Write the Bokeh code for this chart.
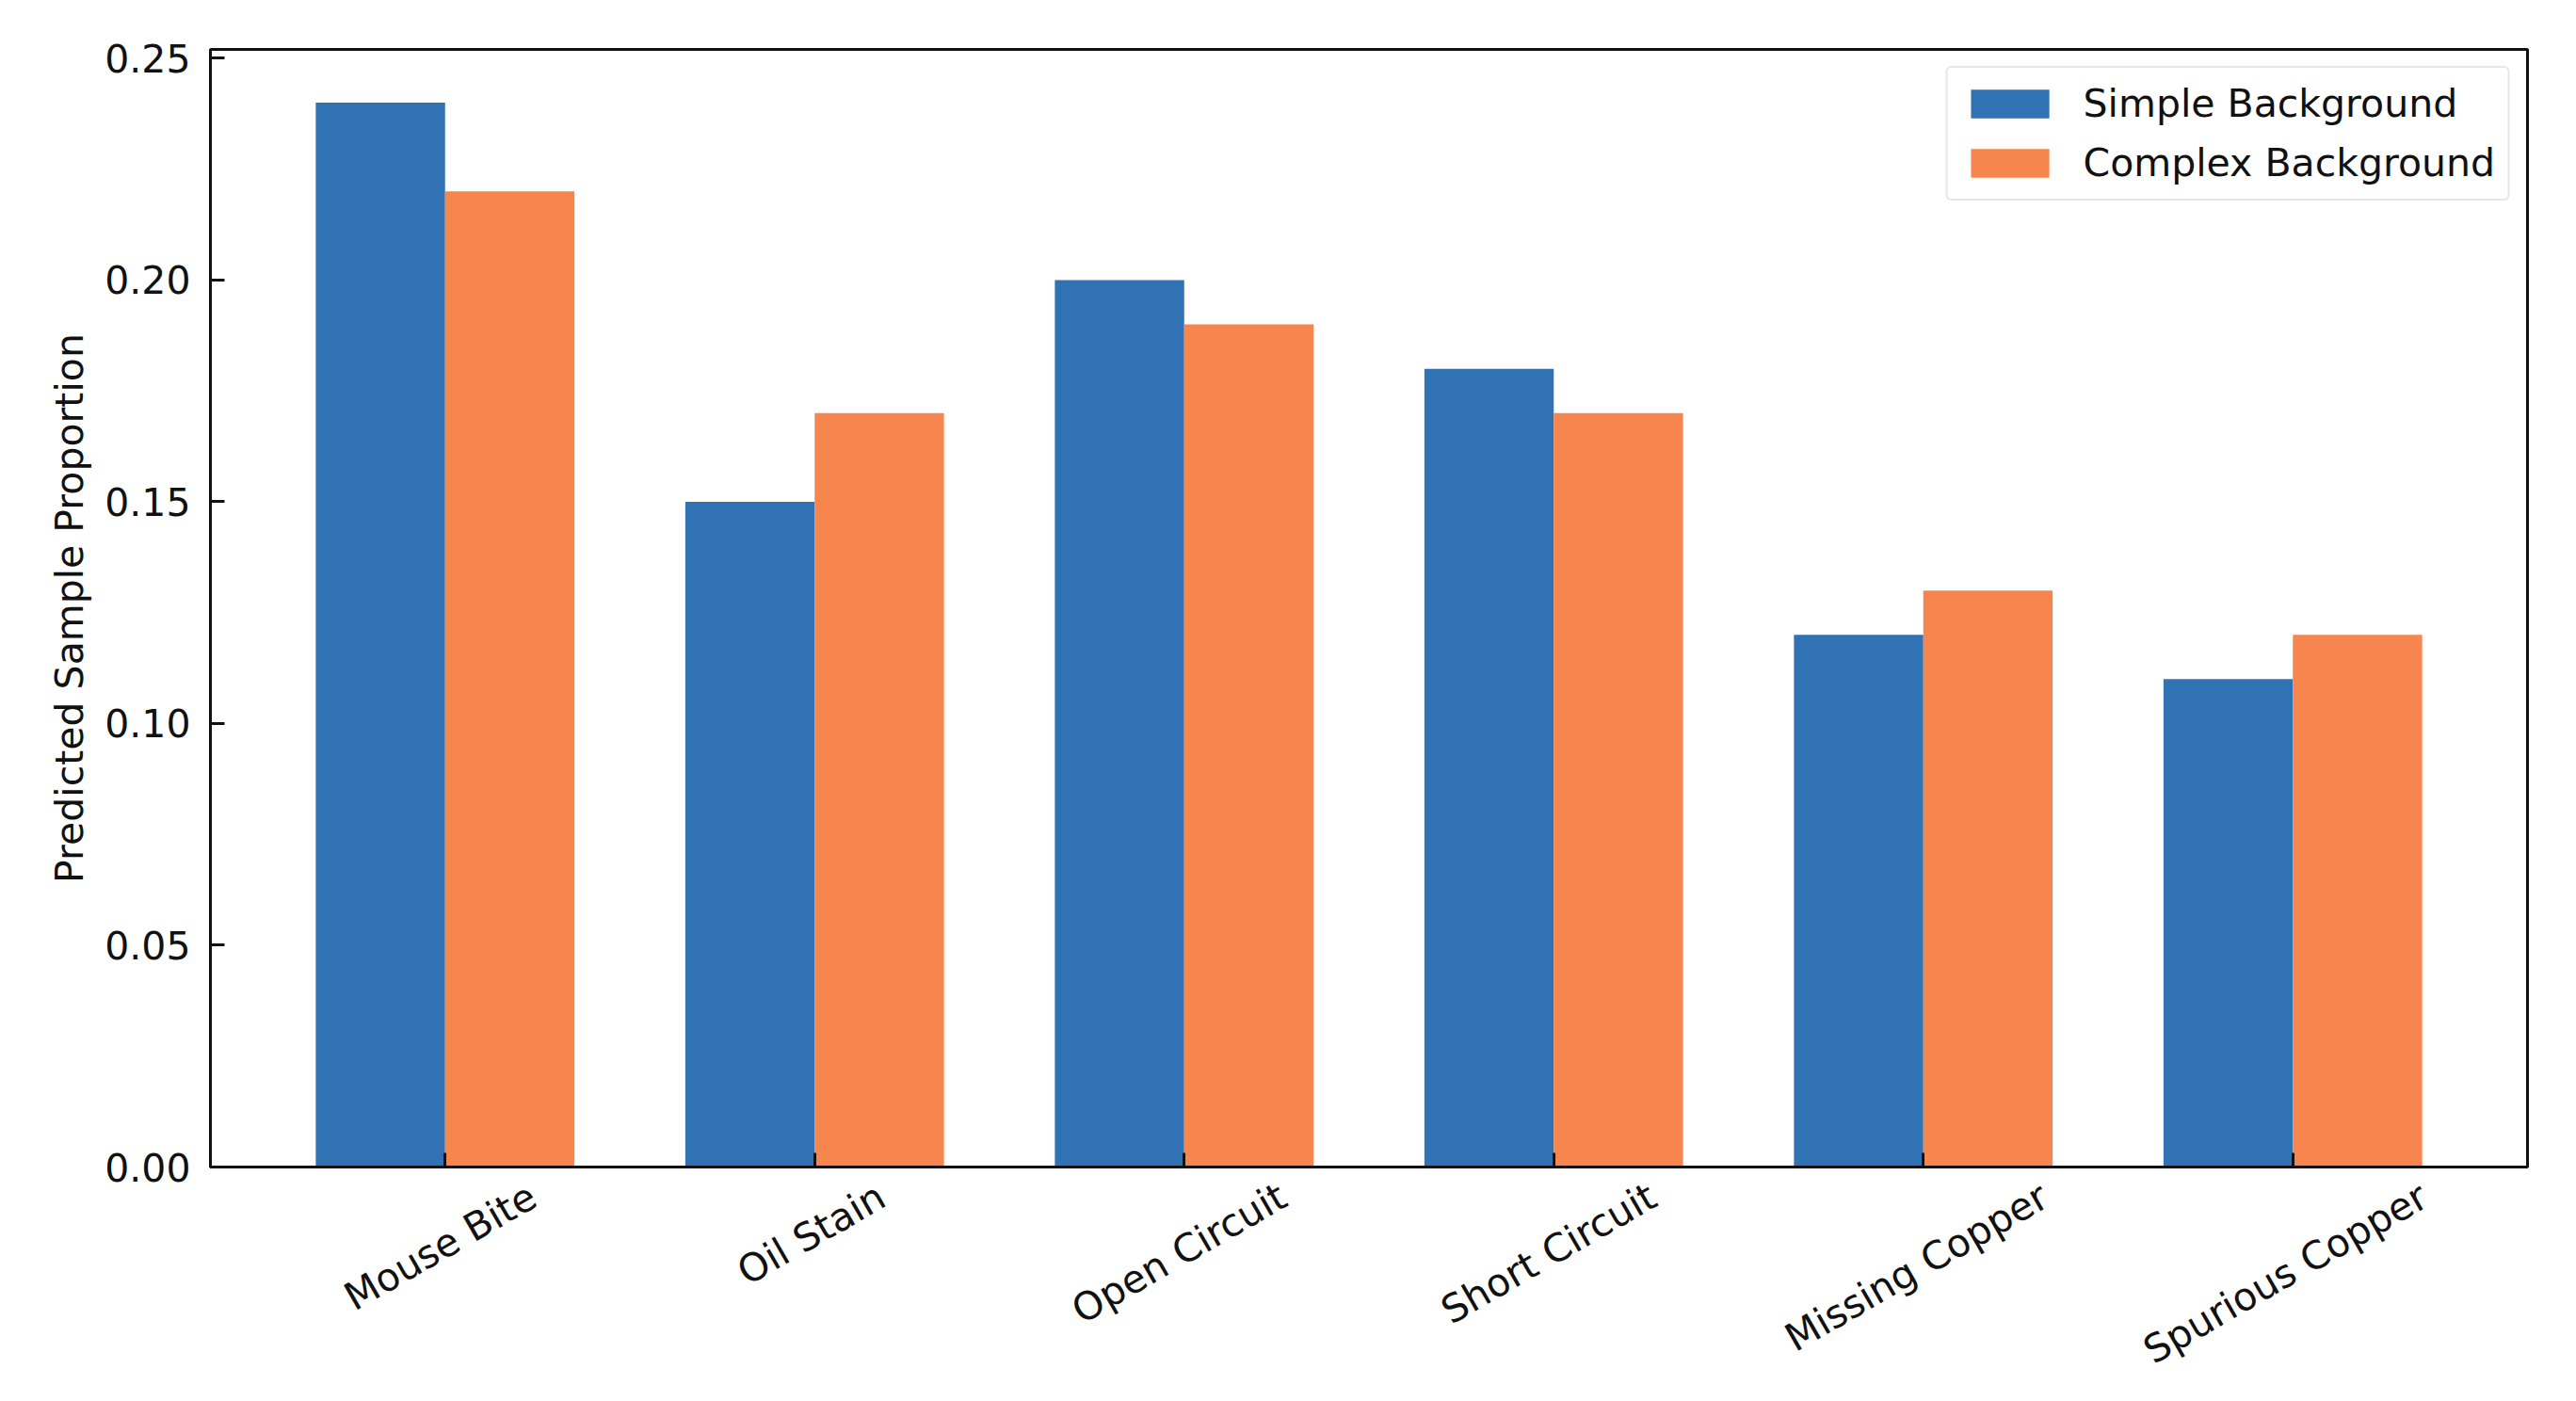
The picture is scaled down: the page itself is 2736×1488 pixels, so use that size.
import math
from bokeh.plotting import figure
from bokeh.models import Range1d, FixedTicker, ColumnDataSource, Legend, LegendItem, LinearAxis
from bokeh.transform import dodge
from bokeh.embed import file_html
from bokeh.resources import INLINE

categories = ["Mouse Bite", "Oil Stain", "Open Circuit", "Short Circuit", "Missing Copper", "Spurious Copper"]
simple_bg = [0.24, 0.15, 0.20, 0.18, 0.12, 0.11]
complex_bg = [0.22, 0.17, 0.19, 0.17, 0.13, 0.12]
series_names = ["Simple Background", "Complex Background"]
y_ticks = [0.00, 0.05, 0.10, 0.15, 0.20, 0.25]

BLUE = "#3072b3"
ORANGE = "#f6864e"
FONT = "DejaVu Sans"
FS_PX = 41
FS = f"{FS_PX}px"
TXT = "#111111"
ANGLE = math.pi / 6

X0, X1 = -0.635, 5.635
FRAME_W, FRAME_H = 2461, 1187

idx = list(range(len(categories)))
src = ColumnDataSource(dict(idx=idx, cat=categories, simple=simple_bg, complex=complex_bg))

bar_w = 0.35
p = figure(frame_width=FRAME_W, frame_height=FRAME_H, output_backend="svg", toolbar_location=None,
           x_range=Range1d(X0, X1), y_range=Range1d(0, 0.252),
           min_border_left=223, min_border_top=52, min_border_right=36, min_border_bottom=20)

r1 = p.vbar(x=dodge("idx", -bar_w / 2, range=p.x_range), top="simple", width=bar_w, source=src,
            fill_color=BLUE, line_color=None)
r2 = p.vbar(x=dodge("idx", bar_w / 2, range=p.x_range), top="complex", width=bar_w, source=src,
            fill_color=ORANGE, line_color=None)

p.xgrid.visible = False
p.ygrid.visible = False
p.outline_line_color = "#111111"
p.outline_line_width = 3
p.outline_line_alpha = 1.0

def style_axis(ax):
    ax.axis_line_color = "#111111"
    ax.axis_line_width = 3
    ax.major_tick_line_color = "#111111"
    ax.major_tick_line_width = 3
    ax.major_tick_in = 15
    ax.major_tick_out = 0
    ax.minor_tick_line_color = None
    ax.major_label_text_font = FONT
    ax.major_label_text_font_size = FS
    ax.major_label_text_color = TXT
    ax.axis_label_text_font = FONT
    ax.axis_label_text_font_size = FS
    ax.axis_label_text_font_style = "normal"
    ax.axis_label_text_color = TXT

style_axis(p.xaxis[0])
style_axis(p.yaxis[0])

# bottom axis: inward ticks at the category centres (its own labels are empty)
p.xaxis[0].ticker = FixedTicker(ticks=idx)
p.xaxis[0].major_label_overrides = {i: "" for i in idx}
p.xaxis[0].major_label_text_font_size = "0px"
p.xaxis[0].major_label_standoff = 0

# Bokeh anchors a rotated label by its end; shift each label by half its rotated
# width so that the label is centred under its tick (as in the original chart).
DJV = {"M": .863, "o": .612, "u": .634, "s": .521, "e": .615, " ": .318, "B": .686, "i": .278,
       "t": .392, "O": .787, "l": .278, "S": .635, "a": .613, "n": .634, "p": .635, "C": .698,
       "r": .411, "c": .550, "h": .634, "g": .635}
px_per_unit = FRAME_W / (X1 - X0)

def half_rot_width(txt):
    w = sum(DJV.get(ch, 0.6) for ch in txt) * FS_PX
    return (w * math.cos(ANGLE) * 0.94 + 10) / 2

label_pos = [i + (half_rot_width(c) - 4) / px_per_unit for i, c in zip(idx, categories)]
cat_axis = LinearAxis(ticker=FixedTicker(ticks=label_pos),
                      major_label_overrides={pos: c for pos, c in zip(label_pos, categories)})
style_axis(cat_axis)
cat_axis.axis_line_color = None
cat_axis.major_tick_line_color = None
cat_axis.major_label_orientation = ANGLE
cat_axis.major_label_standoff = 28
p.add_layout(cat_axis, "below")

p.yaxis.ticker = FixedTicker(ticks=y_ticks)
p.yaxis.major_label_overrides = {t: f"{t:.2f}" for t in y_ticks}
p.yaxis.major_label_standoff = 21
p.yaxis.axis_label = "Predicted Sample Proportion"
p.yaxis.axis_label_standoff = 10

legend = Legend(items=[LegendItem(label=series_names[0], renderers=[r1]),
                       LegendItem(label=series_names[1], renderers=[r2])],
                location="top_right")
legend.margin = 18
legend.padding = 14
legend.spacing = 15
legend.glyph_width = 104
legend.glyph_height = 38
legend.label_standoff = 26
legend.label_text_font = FONT
legend.label_text_font_size = FS
legend.label_text_color = TXT
legend.border_line_color = "#d0d0d0"
legend.border_line_width = 2
legend.border_radius = 6
legend.background_fill_alpha = 0.9
p.add_layout(legend)

open("out.html", "w").write(file_html(p, INLINE))
